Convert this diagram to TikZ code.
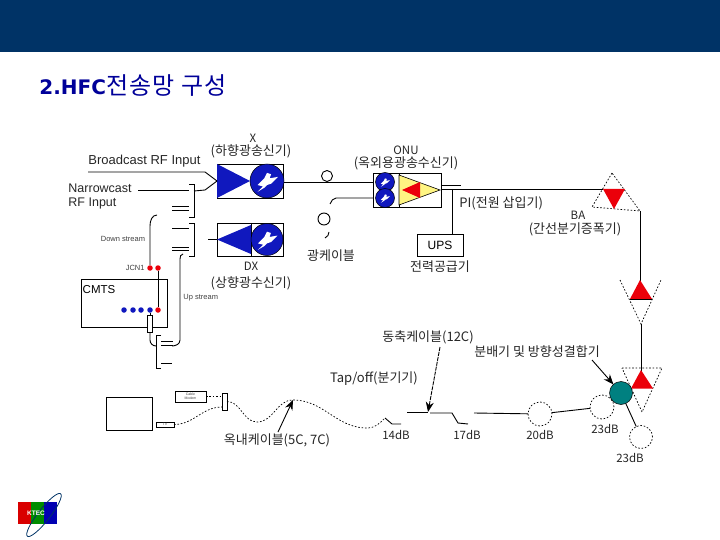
\documentclass[tikz,border=0pt]{standalone}
\usepackage{fontspec}
\setmainfont{Liberation Sans}
\newfontfamily\cjk{Noto Sans CJK KR}
\newfontfamily\headfont{DejaVu Sans}
\usetikzlibrary{arrows.meta, positioning, calc}
\definecolor{mnavy}{RGB}{0,51,102}
\definecolor{mtitle}{RGB}{0,0,153}
\definecolor{mblue}{RGB}{16,24,190}
\definecolor{mred}{RGB}{235,0,10}
\definecolor{myellow}{RGB}{255,245,130}
\definecolor{mteal}{RGB}{0,128,128}
\begin{document}
\begin{tikzpicture}[
  x=1pt, y=-1pt, line width=0.9pt,
  box/.style={draw, inner sep=0pt, outer sep=0pt, fill=white},
  lbl/.style={font=\cjk\fontsize{13}{15}\selectfont, text=black!85, inner sep=0pt, align=center},
  num/.style={font=\cjk\fontsize{11.5}{13}\selectfont, text=black!85, inner sep=0pt, align=center},
  small/.style={font=\fontsize{7.5}{8}\selectfont, text=black!75, inner sep=0pt},
  disc/.style={circle, fill=mblue, draw=black, line width=0.5pt, minimum size=#1, inner sep=0pt, outer sep=0pt},
  dot/.style={circle, fill=#1, minimum size=5.5pt, inner sep=0pt},
  ring/.style={circle, draw, minimum size=#1, inner sep=0pt, outer sep=0pt},
  gone/.style={circle, draw, dash pattern=on 1.6pt off 1.8pt, minimum size=#1, inner sep=0pt, outer sep=0pt, line width=0.7pt},
  fade/.style={dash pattern=on 1.6pt off 1.8pt, line width=0.7pt},
  arr/.style={-{Stealth[length=10pt,width=8pt]}},
  plug/.pic={\fill[white] (-7,3) -- (-2,-2) -- (0,-6) -- (3,-5) -- (2,-2) -- (8,-3) -- (3,2) -- (0,3) -- (-2,5) -- (-7,8) -- (-3,4) -- cycle;}
]
\useasboundingbox (0,0) rectangle (720,540);
% header
\fill[mnavy] (0,0) rectangle (720,52);
\node[anchor=base west, inner sep=0pt, text=mtitle] (title) at (39,95) {{\headfont\bfseries\fontsize{20}{24}\selectfont 2.HFC}{\cjk\fontsize{24}{26}\selectfont\addfontfeatures{LetterSpace=5} 전송망 구성}};

% transmitter and receiver
\node[box, minimum width=66pt, minimum height=34pt] (tx) at (250,181) {};
\fill[mblue] (tx.north west) -- (tx.south west) -- (250,181) -- cycle;
\node[disc=34pt] (txc) at (267,181) {};
\pic[scale=1.35] at (txc) {plug};
\node[box, minimum width=66pt, minimum height=33pt] (rx) at (250,239.5) {};
\draw (251,223) -- (251,256);
\fill[mblue] (251,225) -- (251,254) -- (217,239.5) -- cycle;
\node[disc=32pt] (rxc) at (267,239.5) {};
\pic[scale=1.3] at (rxc) {plug};
\node[num] (txt) at (253,138) {X};
\node[lbl] (txn) at (251,151) {(하향광송신기)};
\node[num] (rxt) at (251,266) {DX};
\node[lbl] (rxn) at (251,283) {(상향광수신기)};

% optical node
\node[box, minimum width=68pt, minimum height=34pt] (onu) at (407,190) {};
\draw (399,173) -- (399,207);
\draw[fill=myellow, line width=0.6pt] (399,175) -- (440,190) -- (399,205) -- cycle;
\fill[mred] (402,190) -- (420,182) -- (420,198) -- cycle;
\node[disc=19pt] (onua) at (385,182) {};
\node[disc=19pt] (onub) at (385,198) {};
\pic[scale=0.6] at (onua) {plug};
\pic[scale=0.6] at (onub) {plug};
\node[num] (onut) at (406,150) {ONU};
\node[lbl] (onun) at (406,163) {(옥외용광송수신기)};

% optical cable
\coordinate (fa) at (284,182);
\coordinate (fb) at (373,182);
\draw (fa) -- (fb);
\node[ring=11pt, fill=white] (coila) at (327,176) {};
\node[ring=12pt] (coilb) at (324,219) {};
\coordinate (fc) at (373,198);
\coordinate (fd) at (330,204);
\draw (fc) -- (336,198) to[out=180,in=60] (fd);
\draw (329,232) to[out=-90,in=30] (325,238);
\node[lbl] (fibre) at (331,256) {광케이블};

% power inserter
\coordinate (pa) at (441,185);
\coordinate (pb) at (461,185);
\coordinate (pc) at (441,189);
\coordinate (pd) at (603,189);
\draw (pa) -- (pb);
\draw (pc) -- (pd);
\node[box, minimum width=46pt, minimum height=22pt] (ups) at (440,245) {\fontsize{12}{14}\selectfont UPS};
\draw (452,189) -- (452,234);
\node[lbl] (upsn) at (440,267) {전력공급기};
\node[lbl, anchor=west] (pi) at (459,203) {PI(전원 삽입기)};

% amplifiers
\draw[fade] (612,173) -- (592,207) -- (640,211) -- cycle;
\fill[mred] (603,189) -- (625,189) -- (614,209) -- cycle;
\node[num] (bat) at (578,215) {BA};
\node[lbl] (ban) at (575,229) {(간선분기증폭기)};
\coordinate (ba) at (640,211);
\coordinate (bb) at (640,281);
\draw (ba) -- (bb);
\draw[fade] (620,280) -- (641,324) -- (661,280);
\fill[mred] (640,280) -- (630,299) -- (652,299) -- cycle;
\draw (630,299) -- (652,299);
\coordinate (bc) at (641,324);
\coordinate (bd) at (641,371);
\draw (bc) -- (bd);
\draw[fade] (622,368) -- (662,368) -- (642,412) -- cycle;
\fill[mred] (641,370) -- (631,388.5) -- (653,388.5) -- cycle;
\node[circle, fill=mteal, draw=black, line width=0.5pt, minimum size=23pt, inner sep=0pt, outer sep=0pt] (split) at (621,393) {};

% CMTS
\node[box, minimum width=86pt, minimum height=48pt] (cmts) at (124,303) {};
\node[inner sep=0pt, font=\fontsize{11.5}{13}\selectfont] (cmtst) at (99,290) {CMTS};
\foreach \i/\xx in {a/124,b/133,c/141,d/150}
  \node[dot=mblue] (u\i) at (\xx,310) {};
\node[dot=mred] (ue) at (158,310) {};
\node[dot=mred] (ja) at (150,268) {};
\node[dot=mred] (jb) at (158,268) {};
\draw (jb) -- (ue);
\node[box, minimum width=5pt, minimum height=17pt] (att) at (150,323.5) {};
\draw (ud) -- (att);
\node[small, anchor=east] (jcn) at (145,268) {JCN1};
\node[small] (dstr) at (123,239) {Down stream};
\node[small, anchor=west] (ustr) at (183,298) {Up stream};

% brackets
\draw (189,184) -- (194,184) -- (194,217) -- (189,217);
\draw (189,223) -- (194,223) -- (194,256) -- (189,256);
\draw (161,335) -- (156,335) -- (156,368) -- (161,368);
\foreach \yc in {206,210,228,247,250}
  \draw (172,\yc) -- (189,\yc);
\foreach \yc in {341,345}
  \draw (161,\yc) -- (173,\yc);
\draw (161,363) -- (172,363);

% rf inputs
\coordinate (bcast) at (88,172);
\coordinate (ncast) at (138,190);
\draw (bcast) -- (205,172) -- (tx.west);
\draw (ncast) -- (189,190);
\draw (194,191) -- (205,190) -- (tx.west);
\draw (208,239.5) -- (rx.west);
\node[anchor=west, inner sep=0pt, font=\fontsize{13}{14}\selectfont, text=black!85] (bcastt) at (88,161) {Broadcast RF Input};
\node[anchor=west, inner sep=0pt, font=\fontsize{12.5}{14}\selectfont, text=black!85, align=left] (ncastt) at (68,196) {Narrowcast\\RF Input};
\draw (ja) -- (150,226) to[out=90,in=180] (157,215);
\draw (183,254) to[out=180,in=90] (180,259) -- (180,340) to[out=-90,in=0] (172,346);
\draw (att) -- (150,340) to[out=-90,in=180] (156,346);

% subscriber side
\node[box, minimum width=46pt, minimum height=33pt] (tv) at (129,413.5) {};
\node[box, minimum width=18pt, minimum height=5pt] (stb) at (165,424.5) {};
\node[small, font=\fontsize{3.5}{4}\selectfont] at (stb) {TV};
\node[box, minimum width=31pt, minimum height=11pt] (modem) at (190.5,396.5) {};
\node[small, font=\fontsize{3.5}{4}\selectfont, align=center] at (modem) {Cable\\Modem};
\node[box, minimum width=5pt, minimum height=17pt] (cp) at (224.5,401.5) {};
\draw[fade] (modem.east) -- (cp.west |- modem.east);
\draw[fade] (stb.east) to[out=0,in=180] (cp.west |- 0,407);
\coordinate (taptop) at (385,418);
\draw[fade] (cp.east) to[out=0,in=180] (257,422) to[out=0,in=180] (293,400)
  to[out=0,in=180] (367,428) to[out=0,in=225] (taptop);
\draw (taptop) -- (392,424) -- (401,424);
\coordinate (indoor) at (278,432);
\coordinate (indoorh) at (293,400);
\draw[arr] (indoor) -- (indoorh);
\node[lbl] (indoort) at (277,440) {옥내케이블(5C, 7C)};

% trunk line
\coordinate (ta) at (407,412);
\coordinate (tb) at (428,412);
\coordinate (tc) at (430,413);
\coordinate (td) at (452,413);
\coordinate (te) at (474,413);
\draw (ta) -- (tb);
\draw (tc) -- (td) -- (458,423) -- (468,424);
\node[gone=24pt] (ca) at (540,414) {};
\node[gone=24pt] (cb) at (602,407) {};
\node[gone=23pt] (cc) at (641,437) {};
\draw (te) -- (ca);
\draw (ca) -- (cb);
\draw (split) -- (cc);
\coordinate (coaxt) at (440,347);
\draw[arr, dash pattern=on 4pt off 1pt] (coaxt) -- (tb);
\coordinate (spt) at (592,360);
\draw[arr] (spt) -- (split);
\node[lbl] (coax) at (428,337) {동축케이블(12C)};
\node[lbl] (spn) at (537,352) {분배기 및 방향성결합기};
\node[lbl] (tap) at (374,379) {Tap/off(분기기)};
\node[num] (da) at (396,435) {14dB};
\node[num] (db) at (467,435) {17dB};
\node[num] (dc) at (540,435) {20dB};
\node[num] (dd) at (605,429) {23dB};
\node[num] (de) at (630,458) {23dB};

% logo
\fill[red!85!black] (18,502) rectangle (31,524);
\fill[green!55!black] (31,502) rectangle (44,524);
\fill[blue!70!black] (44,502) rectangle (57,524);
\draw[mnavy, line width=0.8pt, rotate around={52:(44,515)}] (44,515) ellipse (27 and 6);
\node[inner sep=0pt, text=white, font=\bfseries\fontsize{6.5}{8}\selectfont] (logo) at (36,513) {KTEC};
\end{tikzpicture}
\end{document}
